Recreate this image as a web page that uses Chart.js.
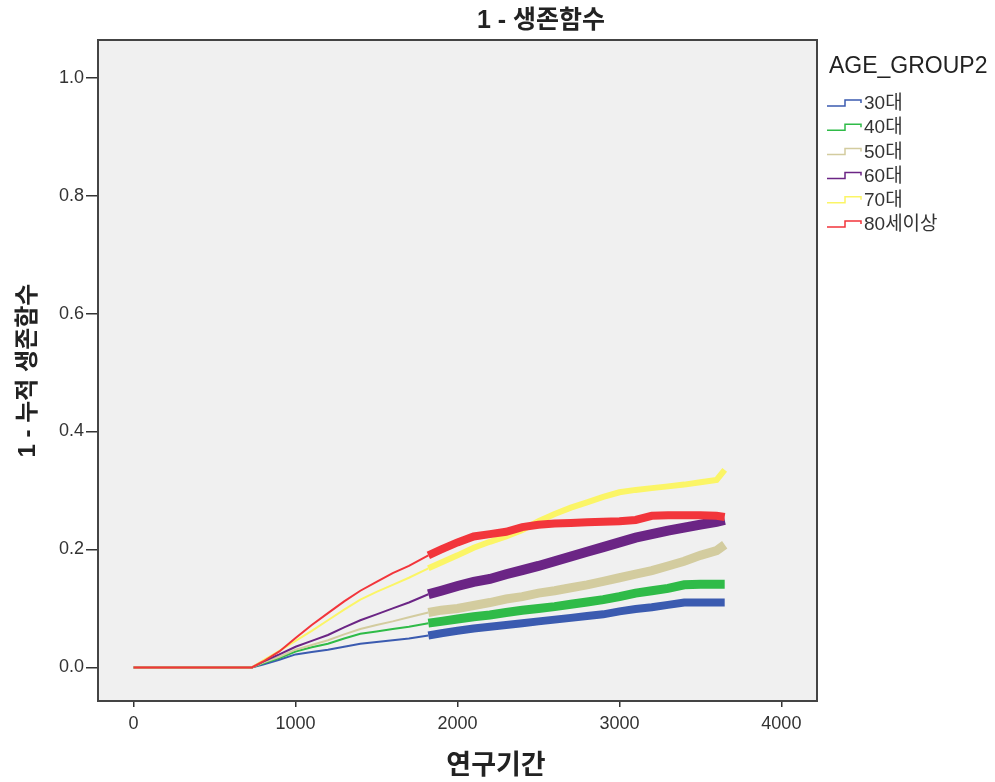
<!DOCTYPE html>
<html lang="ko">
<head>
  <meta charset="UTF-8">
  <title>1 - 생존함수</title>
  <script src="https://cdn.jsdelivr.net/npm/chart.js@4.4.0/dist/chart.umd.min.js"></script>
  <style>
    html, body { margin: 0; padding: 0; background: #fff; }
    #wrap { width: 995px; height: 782px; position: relative; }
  </style>
</head>
<body>
  <div id="wrap"><canvas id="survChart"></canvas></div>
  <script>
    // study period (days) and 1 - cumulative survival per age group
    const timeDays = [0, 730, 800, 900, 1000, 1100, 1200, 1300, 1400, 1500, 1600, 1700, 1820, 1900, 2000, 2100,
                      2200, 2300, 2400, 2500, 2600, 2700, 2800, 2900, 3000, 3100, 3200, 3300, 3400, 3500, 3600, 3650];
    const age30 = [0, 0, 0.005, 0.013, 0.022, 0.026, 0.030, 0.035, 0.040, 0.043, 0.046, 0.049, 0.054, 0.058, 0.062, 0.066,
                   0.069, 0.072, 0.075, 0.078, 0.081, 0.084, 0.087, 0.090, 0.095, 0.099, 0.102, 0.106, 0.110, 0.110, 0.110, 0.110];
    const age40 = [0, 0, 0.007, 0.016, 0.027, 0.034, 0.040, 0.049, 0.057, 0.061, 0.065, 0.069, 0.075, 0.078, 0.082, 0.086,
                   0.089, 0.093, 0.097, 0.100, 0.103, 0.107, 0.111, 0.115, 0.120, 0.126, 0.130, 0.134, 0.140, 0.141, 0.141, 0.141];
    const age50 = [0, 0, 0.008, 0.018, 0.030, 0.038, 0.046, 0.056, 0.065, 0.072, 0.078, 0.085, 0.093, 0.097, 0.100, 0.105,
                   0.110, 0.116, 0.120, 0.126, 0.130, 0.135, 0.140, 0.146, 0.152, 0.158, 0.164, 0.172, 0.180, 0.190, 0.198, 0.208];
    const age60 = [0, 0, 0.010, 0.022, 0.035, 0.045, 0.055, 0.068, 0.080, 0.090, 0.100, 0.110, 0.124, 0.130, 0.138, 0.145,
                   0.150, 0.158, 0.165, 0.172, 0.180, 0.188, 0.196, 0.204, 0.212, 0.220, 0.226, 0.232, 0.237, 0.242, 0.247, 0.250];
    const age70 = [0, 0, 0.012, 0.028, 0.045, 0.062, 0.080, 0.098, 0.115, 0.128, 0.140, 0.152, 0.168, 0.178, 0.190, 0.203,
                   0.213, 0.222, 0.233, 0.248, 0.260, 0.271, 0.280, 0.289, 0.297, 0.301, 0.304, 0.307, 0.310, 0.314, 0.318, 0.335];
    const age80 = [0, 0, 0.010, 0.027, 0.050, 0.072, 0.092, 0.112, 0.130, 0.145, 0.160, 0.172, 0.190, 0.200, 0.212, 0.222,
                   0.226, 0.230, 0.238, 0.242, 0.244, 0.245, 0.246, 0.247, 0.248, 0.250, 0.257, 0.258, 0.258, 0.258, 0.257, 0.255];

    const groupLabels = ['30대', '40대', '50대', '60대', '70대', '80세이상'];
    const groupValues = [age30, age40, age50, age60, age70, age80];
    const groupColors = ['#3b5bb0', '#2fbb48', '#d3cc9f', '#6b2585', '#fbf566', '#f2353b'];
    const bandWidths  = [8, 9, 9, 10, 6, 8];   // thick part where censor marks pile up
    const censorStart = 1820;

    const xTicks = [0, 1000, 2000, 3000, 4000];
    const yTicks = [0, 0.2, 0.4, 0.6, 0.8, 1.0];

    const FONT = '"Liberation Sans", "Noto Sans CJK KR", sans-serif';

    const datasets = groupLabels.map((lab, i) => ({
      label: lab,
      data: timeDays.map((t, j) => ({ x: t, y: groupValues[i][j] })),
      borderColor: groupColors[i],
      borderWidth: 2,
      pointRadius: 0,
      tension: 0,
      order: groupLabels.length - i,
      segment: {
        borderWidth: ctx => ctx.p0.parsed.x >= censorStart ? bandWidths[i] : 2
      }
    }));

    // plot background, frame, title, x title and legend
    const decor = {
      id: 'decor',
      beforeDatasetsDraw(chart) {
        const { ctx, chartArea: a } = chart;
        ctx.save();
        ctx.fillStyle = '#f0f0f0';
        ctx.fillRect(a.left, a.top, a.right - a.left, a.bottom - a.top);
        ctx.restore();
      },
      afterDraw(chart) {
        const { ctx, chartArea: a } = chart;
        ctx.save();
        ctx.strokeStyle = '#444';
        ctx.lineWidth = 2;
        ctx.strokeRect(a.left, a.top, a.right - a.left, a.bottom - a.top);

        ctx.fillStyle = '#222';
        ctx.textAlign = 'center';
        ctx.textBaseline = 'middle';
        ctx.font = 'bold 25px ' + FONT;
        ctx.fillText('1 - 생존함수', 541, 21);
        ctx.font = 'bold 27px ' + FONT;
        ctx.fillText('연구기간', 496, 767);

        // legend
        ctx.textAlign = 'left';
        ctx.font = '23px ' + FONT;
        ctx.fillStyle = '#222';
        ctx.fillText('AGE_GROUP2', 829, 67);
        ctx.font = '19px ' + FONT;
        chart.data.datasets.forEach((ds, i) => {
          const y = 103 + i * 24.2;
          ctx.strokeStyle = ds.borderColor;
          ctx.lineWidth = 1.5;
          ctx.beginPath();
          ctx.moveTo(827, y + 3);
          ctx.lineTo(845, y + 3);
          ctx.lineTo(845, y - 3);
          ctx.lineTo(861, y - 3);
          ctx.lineTo(861, y);
          ctx.stroke();
          ctx.fillStyle = '#333';
          ctx.fillText(ds.label, 864, y + 1);
        });
        ctx.restore();
      }
    };

    new Chart(document.getElementById('survChart'), {
      type: 'line',
      data: { datasets },
      plugins: [decor],
      options: {
        responsive: true,
        maintainAspectRatio: false,
        animation: false,
        layout: { padding: { top: 40, right: 178, bottom: 0, left: 0 } },
        plugins: { legend: { display: false }, tooltip: { enabled: false } },
        scales: {
          x: {
            type: 'linear',
            min: -220,
            max: 4220,
            afterBuildTicks: s => { s.ticks = xTicks.map(v => ({ value: v })); },
            afterFit: s => { s.height = 81; },
            grid: { drawOnChartArea: false, tickLength: 6, color: '#333', lineWidth: 1.5 },
            border: { display: false },
            ticks: { color: '#333', padding: 6, font: { family: FONT, size: 18 }, callback: v => String(v) }
          },
          y: {
            min: -0.057,
            max: 1.064,
            afterBuildTicks: s => { s.ticks = yTicks.map(v => ({ value: v })); },
            afterFit: s => { s.width = 98; },
            grid: { drawOnChartArea: false, tickLength: 12, color: '#333', lineWidth: 1.5 },
            border: { display: false },
            ticks: { color: '#333', padding: 2, font: { family: FONT, size: 18 }, callback: v => Number(v).toFixed(1) },
            title: {
              display: true,
              text: '1 - 누적 생존함수',
              color: '#222',
              font: { family: FONT, size: 24, weight: 'bold' },
              padding: { top: 14, bottom: 0 }
            }
          }
        }
      }
    });
  </script>
</body>
</html>
